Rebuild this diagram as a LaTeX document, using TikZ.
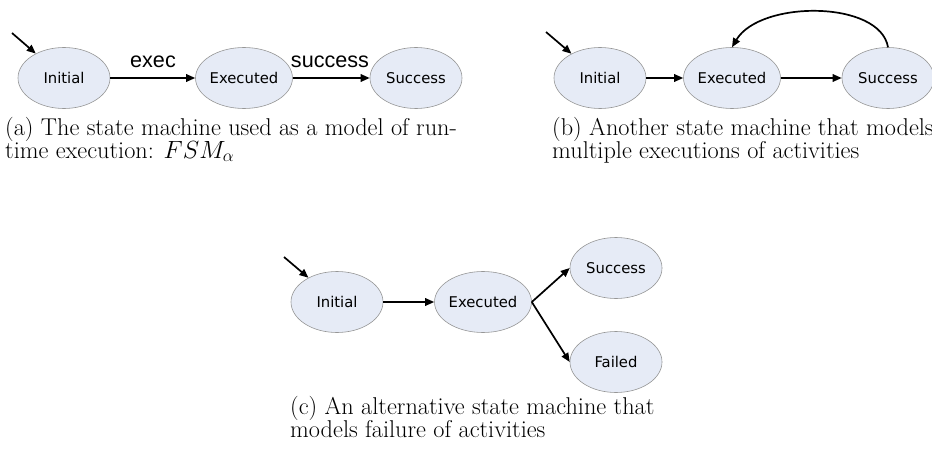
\documentclass[tikz,border=0pt]{standalone}
\usepackage{fontspec}
\usetikzlibrary{arrows.meta,shapes.geometric}
\newfontfamily\statefont{DejaVu Sans}
\newfontfamily\labelfont{Liberation Sans}
\definecolor{stfill}{RGB}{230,235,246}
\definecolor{stedge}{RGB}{150,150,150}
\begin{document}
\begin{tikzpicture}[x=1pt,y=-1pt,
  state/.style={ellipse, draw=stedge, line width=0.6pt, fill=stfill,
    minimum width=92pt, minimum height=61pt, inner sep=0pt,
    font=\statefont\fontsize{14.8}{16}\selectfont},
  trans/.style={line width=1.7pt, -{Triangle[length=9pt,width=7.5pt]}},
  edgelabel/.style={font=\labelfont\fontsize{21.6}{24}\selectfont,
    anchor=base, inner sep=0pt},
  capline/.style={font=\fontsize{24.3}{28}\selectfont,
    anchor=base west, inner sep=0pt}]
\useasboundingbox (0,0) rectangle (932,452);

% (a) single execution
\node[state] (ai) at (64,78)  {Initial};
\node[state] (ae) at (244,78) {Executed};
\node[state] (as) at (416,78) {Success};
\coordinate (astart) at (12,33);
\draw[trans] (astart) -- (ai);
\draw[trans] (ai) -- (ae);
\draw[trans] (ae) -- (as);
\node[edgelabel] (lexec) at (153,68) {exec};
\node[edgelabel] (lsucc) at (330,68) {success};
\node[capline] (capa1) at (5,135) {(a) The state machine used as a model of run-};
\node[capline] (capa2) at (5,158) {time execution: $FSM_\alpha$};

% (b) repeated executions
\node[state] (bi) at (600,78) {Initial};
\node[state] (be) at (732,78) {Executed};
\node[state] (bs) at (888,78) {Success};
\coordinate (bstart) at (546,32);
\draw[trans] (bstart) -- (bi);
\draw[trans] (bi) -- (be);
\draw[trans] (be) -- (bs);
\draw[trans] (bs.north) .. controls (880,0) and (760,0) .. (be.north);
\node[capline] (capb1) at (552,135) {(b) Another state machine that models};
\node[capline] (capb2) at (552,158) {multiple executions of activities};

% (c) success or failure
\node[state] (ci) at (337,302) {Initial};
\node[state] (ce) at (483,302) {Executed};
\node[state] (cs) at (616,268) {Success};
\node[state] (cf) at (616,362) {Failed};
\coordinate (cstart) at (284,257);
\draw[trans] (cstart) -- (ci);
\draw[trans] (ci) -- (ce);
\draw[trans] (ce.east) -- (cs.west);
\draw[trans] (ce.east) -- (cf.west);
\node[capline] (capc1) at (290,414) {(c) An alternative state machine that};
\node[capline] (capc2) at (290,437) {models failure of activities};
\end{tikzpicture}
\end{document}
